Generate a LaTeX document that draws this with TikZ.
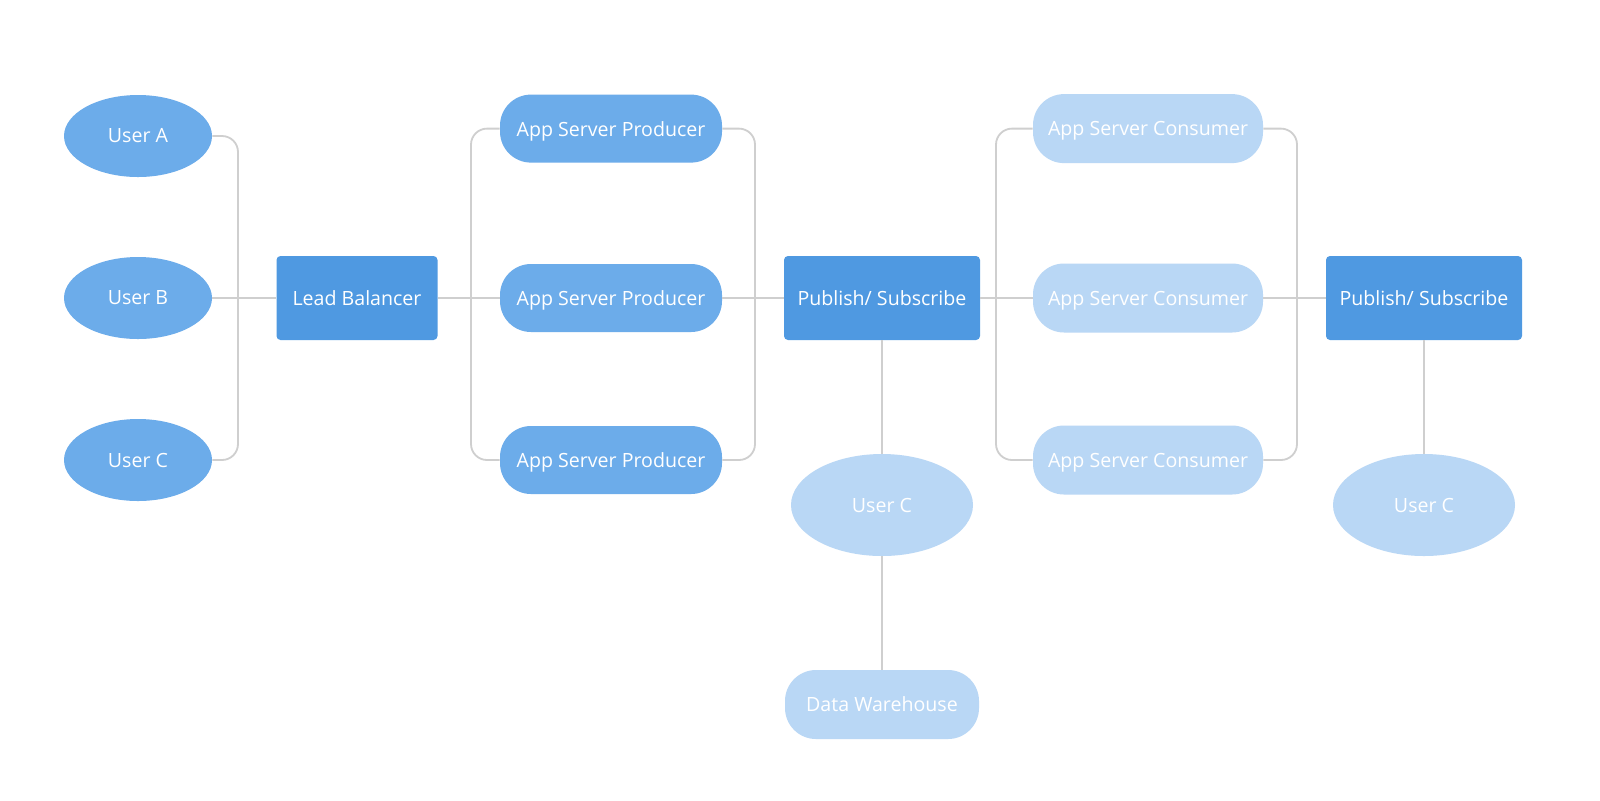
\documentclass[tikz,border=0pt]{standalone}
\usepackage{fontspec}
\setmainfont{Open Sans}
\usetikzlibrary{shapes.geometric}
\definecolor{hubblue}{HTML}{4F99E1}
\definecolor{midblue}{HTML}{6CACEA}
\definecolor{paleblue}{HTML}{B9D7F5}
\definecolor{linkgray}{HTML}{CFCFCF}
\tikzset{
	every node/.style={font=\fontsize{9.8}{12}\selectfont, text=white, inner sep=0pt},
	user/.style={ellipse, fill=midblue, minimum width=74pt, minimum height=41pt},
	sink/.style={ellipse, fill=paleblue, minimum width=91pt, minimum height=51pt},
	hub/.style={rectangle, fill=hubblue, rounded corners=2pt, minimum width=98pt, minimum height=42pt},
	prod/.style={rectangle, fill=midblue, rounded corners=15.5pt, minimum width=111pt, minimum height=34pt, text depth=0pt},
	cons/.style={rectangle, fill=paleblue, rounded corners=15.5pt, minimum width=115pt, minimum height=34.5pt, text depth=0pt},
	link/.style={draw=linkgray, line width=0.9pt, rounded corners=8pt},
}

\begin{document}
\begin{tikzpicture}[x=0.5pt,y=-0.5pt]
	\fill[white] (0,0) rectangle (1600,800);
	\useasboundingbox (0,0) rectangle (1600,800);
	\node[user] (ua) at (138,136) {User A};
	\node[user] (ub) at (138,298) {User B};
	\node[user] (uc) at (138,460) {User C};
	\node[hub, minimum width=80.5pt] (lb) at (357,298) {Lead Balancer};
	\foreach \n/\y in {1/128.6,2/298,3/460}{
		\node[prod] (p\n) at (611,\y) {App Server Producer};
		\node[cons] (c\n) at (1148,\y) {App Server Consumer};
	}
	\node[hub] (ps1) at (882,298) {Publish/ Subscribe};
	\node[hub] (ps2) at (1424,298) {Publish/ Subscribe};
	\node[sink] (uc2) at (882,505) {User C};
	\node[sink] (uc3) at (1424,505) {User C};
	\node[cons, minimum width=97pt] (dw) at (882,704.5) {Data Warehouse};
	\coordinate (j1) at (238,298);
	\coordinate (j2) at (471,298);
	\coordinate (j3) at (755,298);
	\coordinate (j4) at (996,298);
	\coordinate (j5) at (1297,298);
	\draw[link] (ua.east) -| (j1) |- (uc.east);
	\draw[link] (ub) -- (lb);
	\draw[link] (p1.west) -| (j2) |- (p3.west);
	\draw[link] (lb) -- (p2);
	\draw[link] (p1.east) -| (j3) |- (p3.east);
	\draw[link] (p2) -- (ps1);
	\draw[link] (c1.west) -| (j4) |- (c3.west);
	\draw[link] (ps1) -- (c2);
	\draw[link] (c1.east) -| (j5) |- (c3.east);
	\draw[link] (c2) -- (ps2);
	\draw[link] (ps1) -- (uc2);
	\draw[link] (uc2) -- (dw);
	\draw[link] (ps2) -- (uc3);
\end{tikzpicture}
\end{document}
